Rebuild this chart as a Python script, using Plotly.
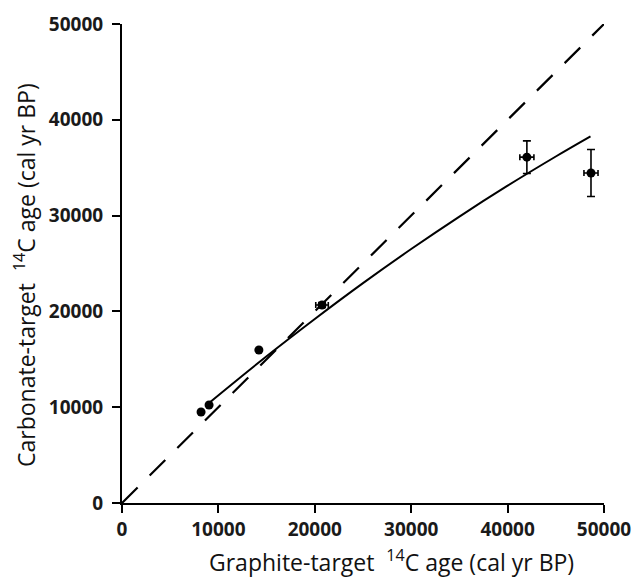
import plotly.graph_objects as go

# Data points (cal yr BP)
graphite_age = [8200, 9030, 14200, 20750, 42000, 48650]
carbonate_age = [9500, 10230, 15970, 20670, 36100, 34450]
x_err = [0, 0, 0, 650, 730, 730]
y_err = [0, 0, 0, 250, 1700, 2450]

# Fitted curve
fit_x = [9000, 15000, 20000, 25000, 30000, 35000, 40000, 45000, 48600]
fit_y = [10420, 15320, 19210, 22950, 26510, 29900, 33120, 36170, 38270]

# 1:1 line
one_x = [0, 50000]
one_y = [0, 50000]

tick_vals = [0, 10000, 20000, 30000, 40000, 50000]
tick_text = ["0", "10000", "20000", "30000", "40000", "50000"]

fig = go.Figure()
fig.add_trace(go.Scatter(x=one_x, y=one_y, mode="lines",
                         line=dict(color="black", width=2.2, dash="22px,17px"),
                         showlegend=False, hoverinfo="skip"))
fig.add_trace(go.Scatter(x=fit_x, y=fit_y, mode="lines", line_shape="spline",
                         line=dict(color="black", width=2),
                         showlegend=False))
fig.add_trace(go.Scatter(x=graphite_age, y=carbonate_age, mode="markers",
                         marker=dict(color="black", size=9),
                         error_x=dict(type="data", array=x_err, color="black", thickness=1.6, width=3),
                         error_y=dict(type="data", array=y_err, color="black", thickness=1.6, width=4),
                         showlegend=False))

tickfont = dict(family="Open Sans", size=19, color="#1a1a1a", weight="bold")
axis_common = dict(range=[0, 50000], tickvals=tick_vals, ticktext=tick_text,
                   showline=True, linecolor="black", linewidth=2,
                   ticks="outside", ticklen=8, tickwidth=2, tickcolor="black",
                   showgrid=False, zeroline=False, tickfont=tickfont,
                   automargin=False)

fig.update_layout(
    width=633, height=582,
    margin=dict(l=122, r=29, t=24, b=79),
    plot_bgcolor="white", paper_bgcolor="white",
    xaxis=dict(**axis_common),
    yaxis=dict(**axis_common, ticklabelstandoff=5),
    annotations=[
        dict(text="Graphite-target  <sup>14</sup>C age (cal yr BP)", xref="paper", yref="paper",
             x=(391 - 122) / 482, y=-(561 - 503) / 479, xanchor="center", yanchor="middle",
             showarrow=False, font=dict(family="Open Sans", size=23, color="#111")),
        dict(text="Carbonate-target  <sup>14</sup>C age (cal yr BP)", xref="paper", yref="paper",
             x=-(122 - 25) / 482, y=(503 - 275) / 479, xanchor="center", yanchor="middle",
             textangle=-90,
             showarrow=False, font=dict(family="Open Sans", size=23, color="#111")),
    ],
)

fig.write_html("out.html", config={"displayModeBar": False},
               post_script="document.body.style.margin='0';document.body.style.overflow='hidden';")
